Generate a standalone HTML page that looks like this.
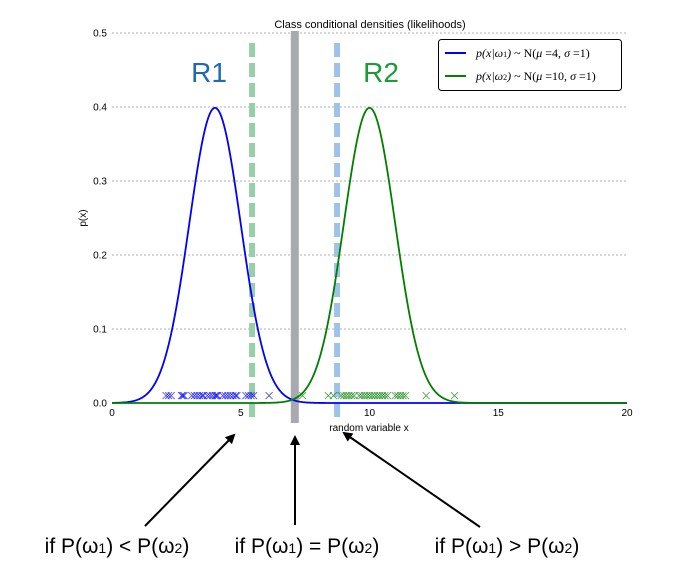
<!DOCTYPE html>
<html><head><meta charset="utf-8"><style>
body{margin:0;background:#fff;width:677px;height:579px;overflow:hidden}
svg{display:block;font-family:"Liberation Sans","DejaVu Sans",sans-serif}
</style></head><body>
<svg id="c" width="677" height="579">
<defs><marker id="ah" markerWidth="10" markerHeight="10" refX="8" refY="5" orient="auto" markerUnits="userSpaceOnUse"><path d="M0,0 L10,5 L0,10 z" fill="#000"/></marker></defs>
<text x="370" y="28" font-size="11" text-anchor="middle">Class conditional densities (likelihoods)</text>
<text x="86" y="218" font-size="10" text-anchor="middle" transform="rotate(-90 86 218)">p(x)</text>
<text x="369" y="431" font-size="10" text-anchor="middle">random variable x</text>
<g id="grid"></g><g id="ticks"></g><g id="marks"></g>
<text x="209" y="82" font-size="28" fill="#1f6ab5" text-anchor="middle">R1</text>
<text x="381" y="82" font-size="28" fill="#1e9a3a" text-anchor="middle">R2</text>
<g>
<rect x="438.5" y="39.5" width="183" height="51" rx="3" fill="#fff" stroke="#000"/>
<line x1="445" y1="53" x2="466" y2="53" stroke="#0000ff" stroke-width="2"/>
<text x="476" y="57" font-size="12" font-family="Liberation Serif,serif"><tspan font-style="italic">p(x|ω</tspan><tspan font-size="8">1</tspan><tspan font-style="italic">)</tspan> ~ N(<tspan font-style="italic">μ</tspan> =4, <tspan font-style="italic">σ</tspan> =1)</text>
<line x1="445" y1="76" x2="466" y2="76" stroke="#007f00" stroke-width="2"/>
<text x="476" y="80" font-size="12" font-family="Liberation Serif,serif"><tspan font-style="italic">p(x|ω</tspan><tspan font-size="8">2</tspan><tspan font-style="italic">)</tspan> ~ N(<tspan font-style="italic">μ</tspan> =10, <tspan font-style="italic">σ</tspan> =1)</text>
</g>
<g stroke="#000" stroke-width="2">
<line x1="145" y1="526" x2="234" y2="435" marker-end="url(#ah)"/>
<line x1="295" y1="525" x2="295" y2="437" marker-end="url(#ah)"/>
<line x1="480" y1="527" x2="344" y2="433" marker-end="url(#ah)"/>
</g>
<g font-size="21" text-anchor="middle" fill="#000">
<text x="117" y="553">if P(ω<tspan font-size="14">1</tspan>) &lt; P(ω<tspan font-size="14">2</tspan>)</text>
<text x="307" y="553">if P(ω<tspan font-size="14">1</tspan>) = P(ω<tspan font-size="14">2</tspan>)</text>
<text x="507" y="553">if P(ω<tspan font-size="14">1</tspan>) &gt; P(ω<tspan font-size="14">2</tspan>)</text>
</g>
</svg>
<script>
const xTicks=[0,5,10,15,20];
const yTicks=[0.0,0.1,0.2,0.3,0.4,0.5];
const mus=[4,10];
const sigmas=[1,1];
const samples1=[2.1,2.2,2.3,2.7,2.75,2.8,3.1,3.2,3.3,3.4,3.5,3.55,3.7,3.8,3.9,4.0,4.05,4.1,4.3,4.4,4.5,4.6,4.7,4.8,4.85,5.2,5.3,5.4,5.5,6.1];
const samples2=[7.4,8.4,8.6,8.9,9.0,9.1,9.2,9.3,9.4,9.6,9.7,9.8,9.9,10.0,10.1,10.2,10.3,10.4,10.5,10.6,10.7,11.0,11.1,11.2,11.3,11.4,12.2,13.3];
const decisionX=[5.44,7.1,8.74];
const NS="http://www.w3.org/2000/svg";
const X=v=>112+v*25.75, Y=v=>403-v*740;
function mk(t,a,p){const e=document.createElementNS(NS,t);for(const k in a)e.setAttribute(k,a[k]);p.appendChild(e);return e;}
const grid=document.getElementById('grid'),ticks=document.getElementById('ticks'),marks=document.getElementById('marks');
yTicks.forEach(v=>{
 if(v>0){const l=mk('line',{x1:112,x2:627,y1:Y(v),y2:Y(v),stroke:'#999','stroke-dasharray':'2,2','stroke-width':0.8},grid);
 
 }
 const t=mk('text',{x:107,y:Y(v)+3.5,'font-size':10,'text-anchor':'end'},ticks);t.textContent=v.toFixed(1);
 
 
});
xTicks.forEach(v=>{const t=mk('text',{x:X(v),y:416,'font-size':10,'text-anchor':'middle'},ticks);t.textContent=v;
 
 });
const dl=[{c:'#97cfa9',w:6,d:'14,6',y1:43,y2:422},{c:'#a9a9b0',w:8,d:null,y1:31,y2:423},{c:'#9fc3e7',w:6,d:'14,6',y1:43,y2:422}];
decisionX.forEach((v,i)=>{const a={x1:X(v),x2:X(v),y1:dl[i].y1,y2:dl[i].y2,stroke:dl[i].c,'stroke-width':dl[i].w};if(dl[i].d)a['stroke-dasharray']=dl[i].d;
 const l=mk('line',a,marks);
 
 });
const cols=['#0000ff','#007f00'];
mus.forEach((m,i)=>{let d='';for(let k=0;k<=400;k++){const x=k*20/400;const p=Math.exp(-0.5*((x-m)/sigmas[i])**2)/(sigmas[i]*Math.sqrt(2*Math.PI));d+=(k?'L':'M')+X(x).toFixed(2)+','+Y(p).toFixed(2);}
 const p=mk('path',{d:d,fill:'none',stroke:cols[i],'stroke-width':1.8},marks);
 
 });
[samples1,samples2].forEach((s,i)=>s.forEach(v=>{const cx=X(v),cy=Y(0.01);
 const p=mk('path',{d:`M${cx-3.5},${cy-3.5}L${cx+3.5},${cy+3.5}M${cx-3.5},${cy+3.5}L${cx+3.5},${cy-3.5}`,stroke:cols[i],'stroke-width':0.8,fill:'none','stroke-opacity':0.8},marks);
 
 }));
</script>
</body></html>
